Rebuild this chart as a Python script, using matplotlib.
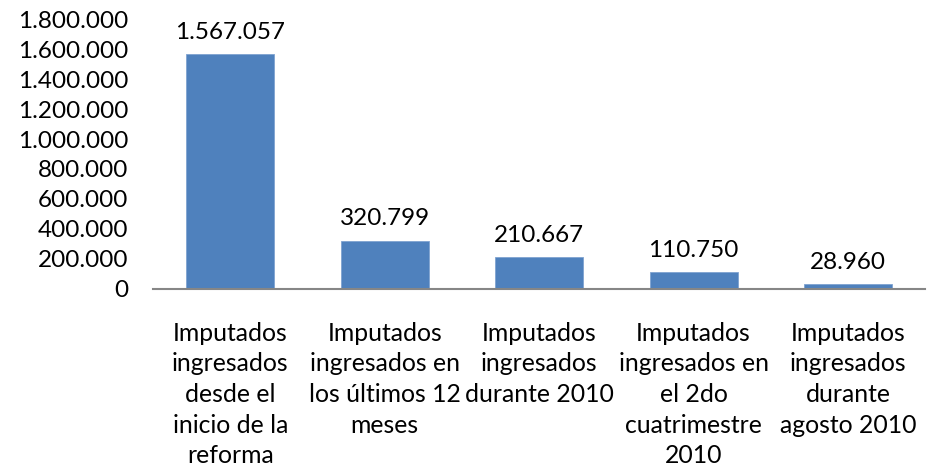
import matplotlib.pyplot as plt

plt.rcParams['font.family'] = ['Lato', 'DejaVu Sans']

categorias = [
    'Imputados\ningresados\ndesde el\ninicio de la\nreforma',
    'Imputados\ningresados en\nlos últimos 12\nmeses',
    'Imputados\ningresados\ndurante 2010',
    'Imputados\ningresados en\nel 2do\ncuatrimestre\n2010',
    'Imputados\ningresados\ndurante\nagosto 2010',
]
valores = [1567057, 320799, 210667, 110750, 28960]
yticks = [0, 200000, 400000, 600000, 800000, 1000000, 1200000, 1400000, 1600000, 1800000]


def fmt(v):
    return '{:,}'.format(v).replace(',', '.')


fig = plt.figure(figsize=(9.28, 4.73), dpi=100)
ax = fig.add_axes([0.165, 0.39, 0.832, 0.569])

x = range(len(valores))
bars = ax.bar(x, valores, width=0.57, color='#4F81BD', edgecolor='#7FA3D1', linewidth=0.6)

for b, v in zip(bars, valores):
    ax.annotate(fmt(v), (b.get_x() + b.get_width() / 2, v), xytext=(0, 8),
                textcoords='offset points', ha='center', va='bottom', fontsize=17.5, color='black')

ax.set_xlim(-0.5, len(valores) - 0.5)
ax.set_ylim(0, 1800000)
ax.set_yticks(yticks)
ax.set_yticklabels([fmt(t) for t in yticks], fontsize=17.5)
ax.set_xticks(list(x))
ax.set_xticklabels(categorias, fontsize=17.8, linespacing=1.4)
ax.tick_params(axis='y', length=0, pad=18)
ax.tick_params(axis='x', length=0, pad=24)

for s in ['top', 'right', 'left']:
    ax.spines[s].set_visible(False)
ax.spines['bottom'].set_color('#868686')
ax.spines['bottom'].set_linewidth(1.5)

plt.savefig('out.png', dpi=100)
